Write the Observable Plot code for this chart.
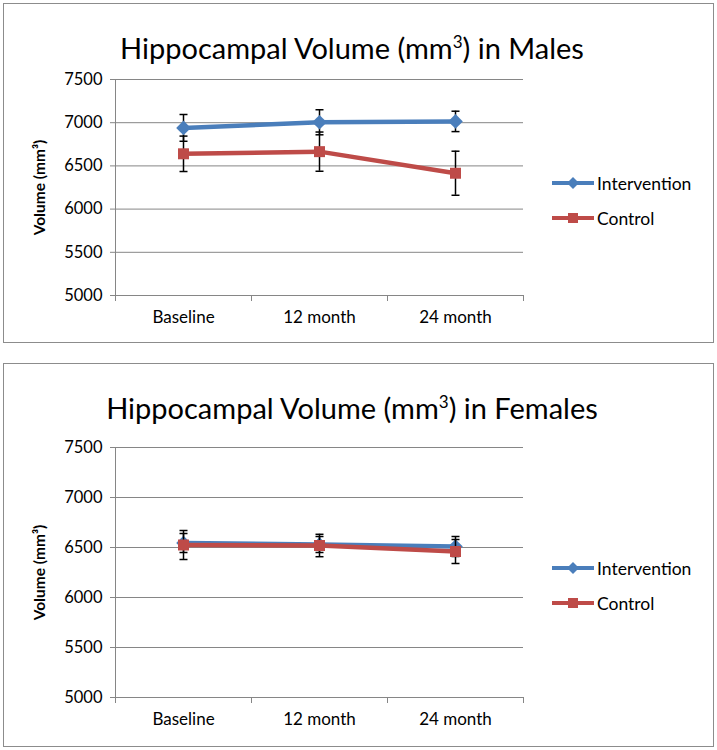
<!DOCTYPE html>
<html>
<head>
<meta charset="utf-8">
<script src="https://cdn.jsdelivr.net/npm/d3@7"></script>
<script src="https://cdn.jsdelivr.net/npm/@observablehq/plot@0.6"></script>
<style>
  html, body { margin: 0; padding: 0; background: #fff; }
  body { width: 717px; height: 750px; position: relative; font-family: Lato, "Open Sans", sans-serif; }
  .panel { position: absolute; left: 3px; width: 709px; border: 1px solid #8c8c8c; background: #fff; box-sizing: content-box; }
  .panel svg { position: absolute; left: 0; top: 0; }
  .title { position: absolute; left: 0; width: 696px; text-align: center; font-size: 29px; line-height: 29px; color: #000; white-space: nowrap; }
  .title sup { font-size: 17px; line-height: 0; vertical-align: 0; position: relative; top: -11px; }
  .legend { position: absolute; left: 548px; font-size: 17.5px; color: #000; }
  .legend .item { position: absolute; left: 0; height: 20px; display: flex; align-items: center; white-space: nowrap; }
  .legend svg { position: static; margin-right: 3px; }
</style>
</head>
<body>
<div id="male" class="panel" style="top:3px;height:338px;"></div>
<div id="female" class="panel" style="top:363px;height:382px;"></div>
<script>
const categories = ["Baseline", "12 month", "24 month"];
const seriesNames = ["Intervention", "Control"];
const seriesColors = ["#4A7EBB", "#BE4B48"];
const seriesSymbols = ["diamond2", "square"];
const yTicks = [5000, 5500, 6000, 6500, 7000, 7500];

const maleIntervention = [6940, 7005, 7015];
const maleInterventionErr = [155, 145, 118];
const maleControl = [6640, 6665, 6415];
const maleControlErr = [205, 227, 255];

const femaleIntervention = [6545, 6530, 6510];
const femaleInterventionErr = [95, 80, 100];
const femaleControl = [6525, 6520, 6460];
const femaleControlErr = [145, 112, 120];

const titles = ["in Males", "in Females"];
const yLabel = "Volume (mm³)";

function rows(values, errs) {
  return categories.map((c, i) => ({cat: c, pos: i + 0.5, value: values[i], lo: values[i] - errs[i], hi: values[i] + errs[i]}));
}

const cap = {draw(context) { context.moveTo(-4, 0); context.lineTo(4, 0); }};

function seriesMarks(data, k) {
  return [
    Plot.line(data, {x: "pos", y: "value", stroke: seriesColors[k], strokeWidth: 4.5}),
    Plot.ruleX(data, {x: "pos", y1: "lo", y2: "hi", stroke: "#000", strokeWidth: 1.5}),
    Plot.dot(data, {x: "pos", y: "lo", symbol: cap, stroke: "#000", strokeWidth: 1.5}),
    Plot.dot(data, {x: "pos", y: "hi", symbol: cap, stroke: "#000", strokeWidth: 1.5}),
    Plot.dot(data, {x: "pos", y: "value", symbol: seriesSymbols[k], fill: seriesColors[k], stroke: "none", r: k === 0 ? 6.6 : 6.2})
  ];
}

function chart(intervention, control, height, marginTop, marginBottom) {
  const xEdges = d3.range(categories.length + 1);
  const xCenters = categories.map((c, i) => i + 0.5);
  return Plot.plot({
    width: 709, height, marginLeft: 111, marginRight: 190, marginTop, marginBottom,
    x: {type: "linear", domain: [0, categories.length], label: null},
    y: {domain: [yTicks[0], yTicks[yTicks.length - 1]], label: null},
    style: {fontFamily: "Lato, 'Open Sans', sans-serif", fontSize: "16px", color: "#000", background: "transparent", overflow: "visible"},
    marks: [
      Plot.gridY(yTicks, {stroke: "#868686", strokeOpacity: 1, strokeWidth: 1}),
      Plot.ruleX([0], {stroke: "#868686", strokeWidth: 1}),
      Plot.axisY(yTicks, {tickSize: 5, tickPadding: 8, stroke: "#868686", fill: "#000", fontSize: 16.5, tickFormat: d3.format("d"), label: null}),
      Plot.axisX(xEdges, {tickSize: 6, stroke: "#868686", tickFormat: () => "", label: null}),
      Plot.axisX(xCenters, {tickSize: 0, tickPadding: 15, fill: "#000", fontSize: 17, tickFormat: d => categories[Math.floor(d)], label: null}),
      Plot.text([yLabel], {frameAnchor: "left", textAnchor: "middle", rotate: -90, dx: -75, fontWeight: "bold", fontSize: 15.5, fill: "#000"}),
      ...seriesMarks(intervention, 0),
      ...seriesMarks(control, 1)
    ]
  });
}

function legend(panel, top) {
  const lg = document.createElement("div");
  lg.className = "legend";
  lg.style.top = top + "px";
  seriesNames.forEach((name, k) => {
    const item = document.createElement("div");
    item.className = "item";
    item.style.top = (k * 35) + "px";
    const ns = "http://www.w3.org/2000/svg";
    const s = document.createElementNS(ns, "svg");
    s.setAttribute("width", 42); s.setAttribute("height", 20);
    const ln = document.createElementNS(ns, "line");
    ln.setAttribute("x1", 0); ln.setAttribute("x2", 42); ln.setAttribute("y1", 10); ln.setAttribute("y2", 10);
    ln.setAttribute("stroke", seriesColors[k]); ln.setAttribute("stroke-width", 4);
    s.appendChild(ln);
    const m = document.createElementNS(ns, "path");
    m.setAttribute("d", k === 0 ? "M21,4L27,10L21,16L15,10Z" : "M16,5H26V15H16Z");
    m.setAttribute("fill", seriesColors[k]);
    s.appendChild(m);
    item.appendChild(s);
    const t = document.createElement("span");
    t.textContent = name;
    item.appendChild(t);
    lg.appendChild(item);
  });
  panel.appendChild(lg);
}

function panel(id, titleSuffix, intervention, control, height, marginTop, marginBottom, titleTop, legendTop) {
  const el = document.getElementById(id);
  el.appendChild(chart(intervention, control, height, marginTop, marginBottom));
  const t = document.createElement("div");
  t.className = "title";
  t.style.top = titleTop + "px";
  t.innerHTML = "Hippocampal Volume (mm<sup>3</sup>) " + titleSuffix;
  el.appendChild(t);
  legend(el, legendTop);
}

panel("male", titles[0], rows(maleIntervention, maleInterventionErr), rows(maleControl, maleControlErr), 338, 75, 47, 29, 169);
panel("female", titles[1], rows(femaleIntervention, femaleInterventionErr), rows(femaleControl, femaleControlErr), 382, 83, 49, 29, 194);
</script>
</body>
</html>
